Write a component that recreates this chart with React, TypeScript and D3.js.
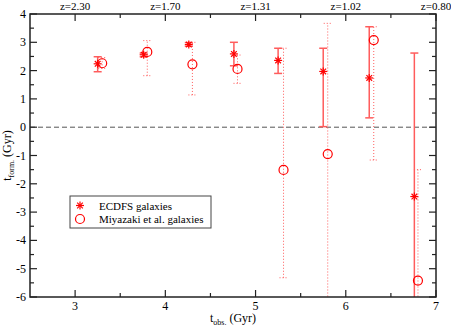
import React, { useEffect, useRef } from 'react';
import * as d3 from 'd3';

// ECDFS galaxies (stars, solid error bars)
const ecdfsX = [3.25, 3.76, 4.26, 4.76, 5.25, 5.75, 6.26, 6.76];
const ecdfsY = [2.24, 2.56, 2.92, 2.59, 2.36, 1.97, 1.74, -2.45];
const ecdfsHi = [2.49, 2.62, 2.99, 3.0, 2.79, 2.79, 3.55, 2.62];
const ecdfsLo = [1.96, 2.49, 2.86, 2.17, 1.9, 0.02, 0.33, -6.3];

// Miyazaki et al. galaxies (circles, dotted error bars)
const miyaX = [3.3, 3.8, 4.3, 4.8, 5.31, 5.8, 6.31, 6.8];
const miyaY = [2.26, 2.66, 2.22, 2.06, -1.51, -0.95, 3.08, -5.42];
const miyaHi = [2.46, 3.06, 3.0, 2.55, 2.79, 3.67, 3.55, -1.5];
const miyaLo = [2.08, 1.82, 1.14, 1.55, -5.32, -6.3, -1.16, -6.3];

const xTicks = [3, 4, 5, 6, 7];
const yTicks = [-6, -5, -4, -3, -2, -1, 0, 1, 2, 3, 4];
const zTicks = [3, 4, 5, 6, 7];
const zLabels = ['z=2.30', 'z=1.70', 'z=1.31', 'z=1.02', 'z=0.80'];

export default function App() {
	const ref = useRef<SVGSVGElement>(null);

	useEffect(() => {
		const width = 451, height = 327;
		const m = { left: 30, right: 15, top: 14, bottom: 30 };
		const svg = d3.select(ref.current);
		svg.selectAll('*').remove();

		const x = d3.scaleLinear().domain([2.5, 7]).range([m.left, width - m.right]);
		const y = d3.scaleLinear().domain([-6, 4]).range([height - m.bottom, m.top]);
		const font = "'Liberation Serif', 'DejaVu Serif', serif";
		const red = '#ff0000';
		const barColor = '#ff5c5c';

		svg.append('defs').append('clipPath').attr('id', 'plotclip')
			.append('rect')
			.attr('x', m.left).attr('y', m.top)
			.attr('width', x(7) - m.left).attr('height', y(-6) - m.top);

		// zero line
		svg.append('line')
			.attr('x1', x(2.5)).attr('x2', x(7))
			.attr('y1', y(0)).attr('y2', y(0))
			.attr('stroke', '#555').attr('stroke-width', 1)
			.attr('stroke-dasharray', '5,3');

		const plot = svg.append('g').attr('clip-path', 'url(#plotclip)');

		// error bars
		function errorBars(xs, lo, hi, dotted) {
			const g = plot.append('g')
				.attr('stroke', barColor)
				.attr('stroke-width', dotted ? 1 : 1.5)
				.attr('stroke-dasharray', dotted ? '1,2' : null);
			xs.forEach((xv, i) => {
				const cx = x(xv);
				g.append('line').attr('x1', cx).attr('x2', cx).attr('y1', y(lo[i])).attr('y2', y(hi[i]));
				[lo[i], hi[i]].forEach((v) => {
					g.append('line').attr('x1', cx - 4).attr('x2', cx + 4).attr('y1', y(v)).attr('y2', y(v));
				});
			});
		}
		errorBars(ecdfsX, ecdfsLo, ecdfsHi, false);
		errorBars(miyaX, miyaLo, miyaHi, true);

		function star(g, cx, cy, r) {
			const d = r * Math.SQRT1_2;
			const s = g.append('g').attr('stroke', red).attr('stroke-width', 1.2);
			s.append('line').attr('x1', cx - r).attr('x2', cx + r).attr('y1', cy).attr('y2', cy);
			s.append('line').attr('x1', cx).attr('x2', cx).attr('y1', cy - r).attr('y2', cy + r);
			s.append('line').attr('x1', cx - d).attr('x2', cx + d).attr('y1', cy - d).attr('y2', cy + d);
			s.append('line').attr('x1', cx - d).attr('x2', cx + d).attr('y1', cy + d).attr('y2', cy - d);
		}
		ecdfsX.forEach((xv, i) => star(plot, x(xv), y(ecdfsY[i]), 4));

		plot.selectAll('circle.miya')
			.data(miyaX)
			.enter()
			.append('circle')
			.attr('class', 'miya')
			.attr('cx', (d) => x(d))
			.attr('cy', (d, i) => y(miyaY[i]))
			.attr('r', 4.5)
			.attr('fill', 'none')
			.attr('stroke', red)
			.attr('stroke-width', 1.2);

		// frame
		svg.append('rect')
			.attr('x', m.left).attr('y', m.top)
			.attr('width', x(7) - m.left).attr('height', y(-6) - m.top)
			.attr('fill', 'none').attr('stroke', '#222').attr('stroke-width', 1.5);

		const ticks = svg.append('g').attr('stroke', '#222').attr('stroke-width', 1.2);
		d3.range(3, 7.01, 0.5).forEach((v) => {
			const len = Number.isInteger(v) ? 7 : 4;
			ticks.append('line').attr('x1', x(v)).attr('x2', x(v)).attr('y1', y(-6)).attr('y2', y(-6) - len);
			ticks.append('line').attr('x1', x(v)).attr('x2', x(v)).attr('y1', y(4)).attr('y2', y(4) + len);
		});
		d3.range(-6, 4.01, 0.5).forEach((v) => {
			const len = Number.isInteger(v) ? 7 : 4;
			ticks.append('line').attr('x1', x(2.5)).attr('x2', x(2.5) + len).attr('y1', y(v)).attr('y2', y(v));
			ticks.append('line').attr('x1', x(7)).attr('x2', x(7) - len).attr('y1', y(v)).attr('y2', y(v));
		});

		const labels = svg.append('g').attr('font-family', font).attr('font-size', 12).attr('fill', '#000');
		xTicks.forEach((v) => {
			labels.append('text').attr('x', x(v)).attr('y', y(-6) + 13)
				.attr('text-anchor', 'middle').text(v);
		});
		yTicks.forEach((v) => {
			labels.append('text').attr('x', m.left - 4).attr('y', y(v) + 4)
				.attr('text-anchor', 'end').text(v);
		});
		zTicks.forEach((v, i) => {
			labels.append('text').attr('x', x(v)).attr('y', m.top - 4)
				.attr('text-anchor', 'middle').attr('font-size', 11).text(zLabels[i]);
		});

		// axis titles
		const xt = labels.append('text').attr('x', x(4.75)).attr('y', height - 5).attr('text-anchor', 'middle');
		xt.append('tspan').text('t');
		xt.append('tspan').attr('font-size', 8).attr('dy', 3).text('obs.');
		xt.append('tspan').attr('dy', -3).text(' (Gyr)');

		const yt = labels.append('text')
			.attr('transform', `translate(11,${y(-1)}) rotate(-90)`)
			.attr('text-anchor', 'middle');
		yt.append('tspan').text('t');
		yt.append('tspan').attr('font-size', 8).attr('dy', 3).text('form.');
		yt.append('tspan').attr('dy', -3).text(' (Gyr)');

		// legend
		const lg = svg.append('g');
		lg.append('rect').attr('x', 70).attr('y', 196).attr('width', 141).attr('height', 32)
			.attr('fill', '#fff').attr('stroke', '#444').attr('stroke-width', 1);
		star(lg, 80, 205.5, 4);
		lg.append('circle').attr('cx', 80).attr('cy', 219).attr('r', 4.5)
			.attr('fill', 'none').attr('stroke', red).attr('stroke-width', 1.2);
		lg.append('text').attr('x', 99).attr('y', 209.5).attr('font-family', font).attr('font-size', 11).text('ECDFS galaxies');
		lg.append('text').attr('x', 99).attr('y', 223).attr('font-family', font).attr('font-size', 11).text('Miyazaki et al. galaxies');
	}, []);

	return (
		<svg ref={ref} width={451} height={327} style={{ position: 'absolute', left: 0, top: 0, background: '#fff' }}></svg>
	);
}
